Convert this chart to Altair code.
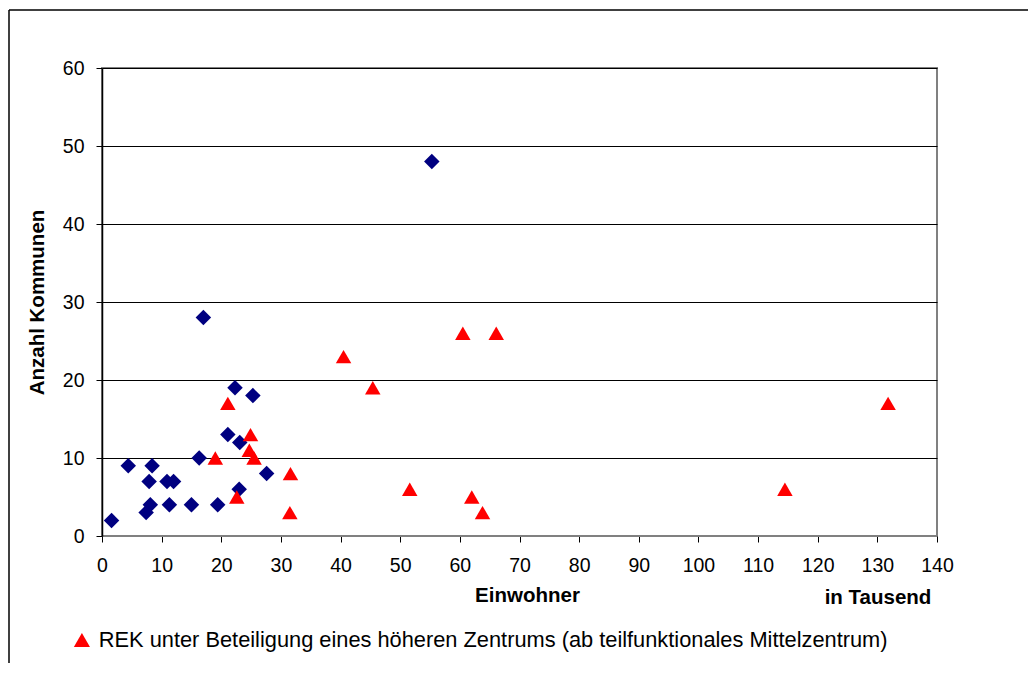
import altair as alt
import pandas as pd

# Series without a higher centre (blue diamonds)
blue_name = "REK ohne Beteiligung eines höheren Zentrums"
blue_x = [1.6, 4.4, 8.4, 7.9, 8.1, 7.4, 10.9, 12.0, 11.3, 15.0, 16.3, 17.0, 19.4, 21.1, 22.3, 23.1, 23.0, 25.3, 27.6, 55.3]
blue_y = [2, 9, 9, 7, 4, 3, 7, 7, 4, 4, 10, 28, 4, 13, 19, 12, 6, 18, 8, 48]

# Series with a higher centre (red triangles)
red_name = "REK unter Beteiligung eines höheren Zentrums (ab teilfunktionales Mittelzentrum)"
red_x = [21.1, 19.0, 24.9, 24.7, 25.5, 22.6, 31.6, 31.5, 40.5, 45.4, 60.5, 66.1, 51.6, 62.0, 63.8, 131.8, 114.5]
red_y = [17, 10, 13, 11, 10, 5, 8, 3, 23, 19, 26, 26, 6, 5, 3, 17, 6]

x_title = "Einwohner"
x_unit = "in Tausend"
y_title = "Anzahl Kommunen"

df = pd.concat([
    pd.DataFrame({"x": blue_x, "y": blue_y, "serie": blue_name, "order": 0}),
    pd.DataFrame({"x": red_x, "y": red_y, "serie": red_name, "order": 1}),
], ignore_index=True)

FONT = "Liberation Sans"

legend = alt.Legend(
    values=[red_name], title=None, orient="none", legendX=-31, legendY=561,
    labelFont=FONT, labelFontSize=21.8, labelColor="#000", symbolSize=260,
    symbolStrokeWidth=0, labelOffset=6, padding=0, labelLimit=0,
)

points = alt.Chart(df).mark_point(filled=True, opacity=1, size=240).encode(
    x=alt.X("x:Q", scale=alt.Scale(domain=[0, 140], nice=False),
            axis=alt.Axis(title=x_title, values=list(range(0, 141, 10)), grid=False,
                          tickSize=6, tickColor="#000", domainColor="#808080",
                          labelPadding=14, labelFlush=False, titlePadding=11, titleX=425)),
    y=alt.Y("y:Q", scale=alt.Scale(domain=[0, 60], nice=False),
            axis=alt.Axis(title=y_title, values=list(range(0, 61, 10)), grid=True,
                          gridColor="#000", gridWidth=1, tickSize=6, tickColor="#000",
                          domainColor="#000", domainWidth=1.5, labelPadding=12,
                          titlePadding=15)),
    shape=alt.Shape("serie:N", scale=alt.Scale(domain=[blue_name, red_name],
                                               range=["diamond", "triangle-up"]), legend=legend),
    color=alt.Color("serie:N", scale=alt.Scale(domain=[blue_name, red_name],
                                               range=["#000080", "#FF0000"]), legend=legend),
    order=alt.Order("order:Q"),
)

base = alt.Chart(pd.DataFrame({"a": [0]}))
unit_text = base.mark_text(font=FONT, fontSize=20.5, fontWeight="bold", align="center",
                           baseline="middle", color="#000").encode(
    x=alt.value(776), y=alt.value(530), text=alt.value(x_unit))
frame_v = base.mark_rule(color="#000", strokeWidth=1.5).encode(
    x=alt.value(-93), y=alt.value(-58), y2=alt.value(700))
frame_h = base.mark_rule(color="#000", strokeWidth=1.5).encode(
    x=alt.value(-93), x2=alt.value(1100), y=alt.value(-58))

chart = alt.layer(frame_v, frame_h, points, unit_text).properties(
    width=835, height=468,
    padding={"left": 94, "top": 60, "right": 91, "bottom": 127},
    autosize=alt.AutoSizeParams(type="none"),
    background="#ffffff",
).configure_view(stroke="#808080", strokeWidth=2).configure_axis(
    labelFont=FONT, labelFontSize=19.5, labelColor="#000",
    titleFont=FONT, titleFontSize=20.5, titleFontWeight="bold", titleColor="#000",
)

chart.save("out.html", embed_options={"renderer": "svg", "actions": False})
